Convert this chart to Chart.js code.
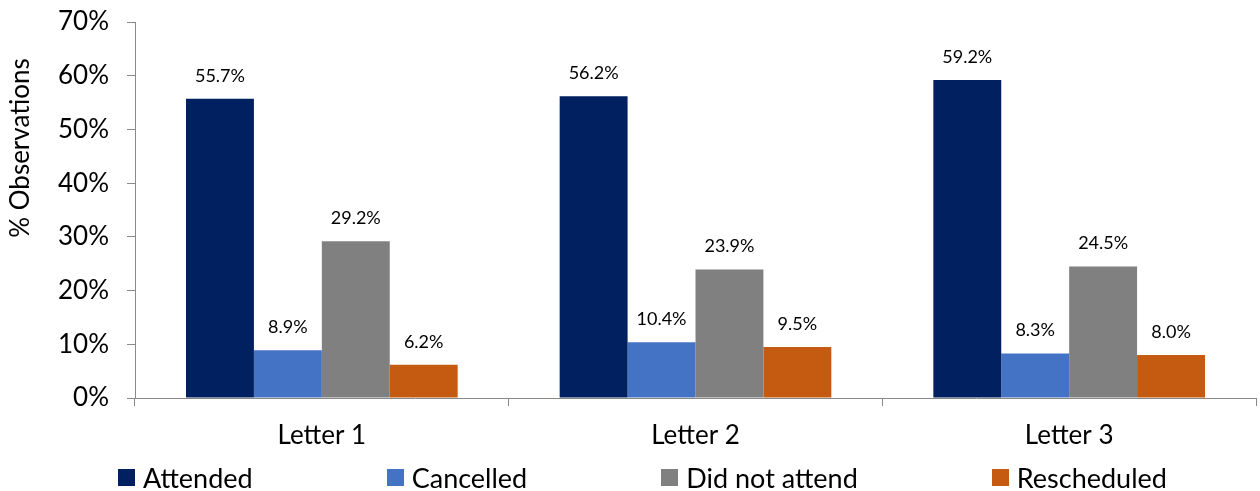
<!DOCTYPE html>
<html lang="en">
<head>
  <meta charset="UTF-8" />
  <title>Observations by letter</title>
  <script src="https://cdn.jsdelivr.net/npm/chart.js"></script>
  <style>
    body { margin: 0; background: #fff; font-family: Lato, "Open Sans", sans-serif; }
    .wrap { position: relative; width: 1260px; height: 491px; }
    #legend { position: absolute; left: 118px; top: 461px; display: flex; gap: 134px; white-space: nowrap; }
    .item { display: flex; align-items: center; font-size: 27px; color: #000; }
    .box { width: 17px; height: 17px; margin-right: 8px; }
  </style>
</head>
<body>
  <div class="wrap">
    <canvas id="chart" width="1260" height="491"></canvas>
    <div id="legend"></div>
  </div>

  <script>
    const categories = ['Letter 1', 'Letter 2', 'Letter 3'];
    const seriesNames = ['Attended', 'Cancelled', 'Did not attend', 'Rescheduled'];
    const attended = [55.7, 56.2, 59.2];
    const cancelled = [8.9, 10.4, 8.3];
    const didNotAttend = [29.2, 23.9, 24.5];
    const rescheduled = [6.2, 9.5, 8.0];
    const colors = ['#002060', '#4472C4', '#808080', '#C55A11'];

    const font = 'Lato, "Open Sans", sans-serif';

    // value labels above each bar
    const barLabels = {
      id: 'barLabels',
      afterDatasetsDraw(chart) {
        const ctx = chart.ctx;
        ctx.save();
        ctx.font = '18px ' + font;
        ctx.fillStyle = '#000';
        ctx.textAlign = 'center';
        ctx.textBaseline = 'middle';
        chart.data.datasets.forEach((ds, i) => {
          chart.getDatasetMeta(i).data.forEach((bar, j) => {
            ctx.fillText(ds.data[j].toFixed(1) + '%', bar.x, bar.y - 23);
          });
        });
        ctx.restore();
      }
    };

    // y axis title, placed like the original (above centre)
    const yTitle = {
      id: 'yTitle',
      afterDraw(chart) {
        const ctx = chart.ctx;
        ctx.save();
        ctx.translate(21, 148);
        ctx.rotate(-Math.PI / 2);
        ctx.font = '26px ' + font;
        ctx.fillStyle = '#000';
        ctx.textAlign = 'center';
        ctx.textBaseline = 'middle';
        ctx.fillText('% Observations', 0, 0);
        ctx.restore();
      }
    };

    const allSeries = [attended, cancelled, didNotAttend, rescheduled];

    new Chart(document.getElementById('chart'), {
      type: 'bar',
      data: {
        labels: categories,
        datasets: seriesNames.map((name, i) => ({
          label: name,
          data: allSeries[i],
          backgroundColor: colors[i],
          categoryPercentage: 0.727,
          barPercentage: 1
        }))
      },
      options: {
        responsive: false,
        animation: false,
        layout: { padding: { top: 22, right: 4, bottom: 35, left: 0 } },
        plugins: { legend: { display: false }, tooltip: { enabled: false } },
        scales: {
          x: {
            grid: { drawOnChartArea: false, color: '#898989', tickLength: 8 },
            border: { color: '#898989' },
            ticks: { color: '#000', font: { family: font, size: 26 }, padding: 14 },
            afterFit: s => { s.height = 58; s.paddingLeft = 0; s.paddingRight = 0; }
          },
          y: {
            min: 0,
            max: 70,
            grid: { drawOnChartArea: false, color: '#898989', tickLength: 8 },
            border: { color: '#898989' },
            ticks: {
              stepSize: 10,
              color: '#000',
              font: { family: font, size: 26 },
              padding: 18,
              callback: v => v + '%'
            },
            afterFit: s => { s.width = 135; s.paddingTop = 0; s.paddingBottom = 0; }
          }
        }
      },
      plugins: [barLabels, yTitle]
    });

    const legend = document.getElementById('legend');
    seriesNames.forEach((name, i) => {
      const item = document.createElement('div');
      item.className = 'item';
      item.innerHTML = '<span class="box" style="background:' + colors[i] + '"></span>' + name;
      legend.appendChild(item);
    });
  </script>
</body>
</html>
